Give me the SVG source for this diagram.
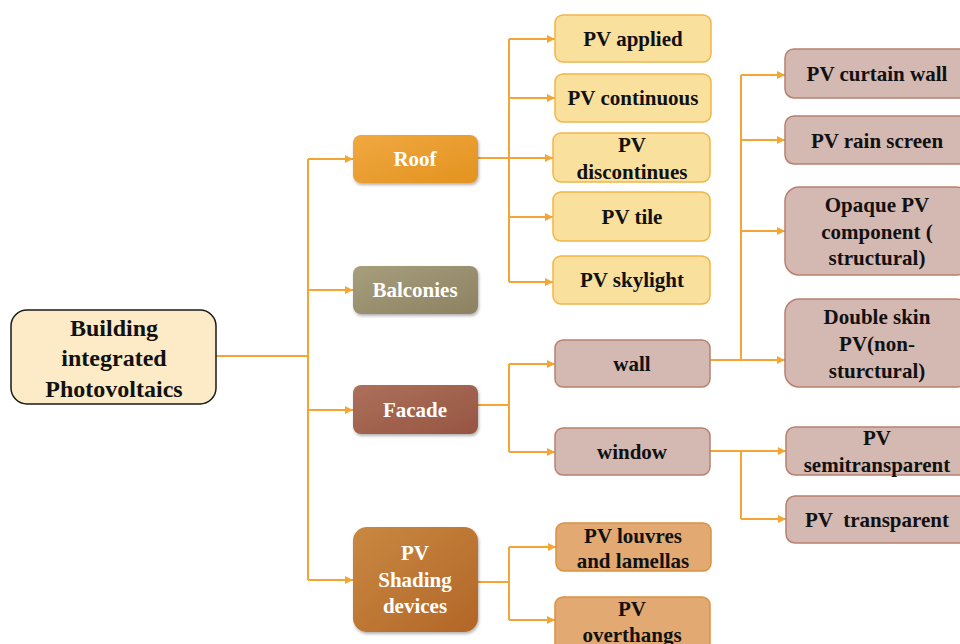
<svg xmlns="http://www.w3.org/2000/svg" width="960" height="644" viewBox="0 0 960 644">
<defs>
  <linearGradient id="gRoof" x1="0" y1="0" x2="1" y2="1"><stop offset="0" stop-color="#f0a841"/><stop offset="1" stop-color="#e3931f"/></linearGradient>
  <linearGradient id="gBal" x1="0" y1="0" x2="1" y2="1"><stop offset="0" stop-color="#a79e7c"/><stop offset="1" stop-color="#8c8262"/></linearGradient>
  <linearGradient id="gFac" x1="0" y1="0" x2="1" y2="1"><stop offset="0" stop-color="#ac705b"/><stop offset="1" stop-color="#965542"/></linearGradient>
  <linearGradient id="gShd" x1="0" y1="0" x2="1" y2="1"><stop offset="0" stop-color="#c98842"/><stop offset="1" stop-color="#b26627"/></linearGradient>
  <filter id="sh" x="-10%" y="-10%" width="125%" height="130%"><feDropShadow dx="1" dy="2" stdDeviation="1.5" flood-color="#000" flood-opacity="0.3"/></filter>
  <marker id="ar" markerWidth="9" markerHeight="9" refX="8" refY="4.5" orient="auto" markerUnits="userSpaceOnUse"><path d="M0,0.5 L8,4.5 L0,8.5 Z" fill="#f4a533"/></marker>
</defs>
<style>
  text{font-family:"Liberation Serif","Times New Roman",serif;font-weight:bold;text-anchor:middle;font-size:21px;fill:#111;white-space:pre}
  .w{fill:#fff}
  .root{font-size:24px}
  .c{fill:none;stroke:#f4a533;stroke-width:2}
  .a{marker-end:url(#ar)}
  .y{fill:#f9e09d;stroke:#f2b545;stroke-width:1.5}
  .p{fill:#d4b8b2;stroke:#b8806f;stroke-width:1.5}
  .o{fill:#e2a972;stroke:#d9923f;stroke-width:1.5}
</style>
<rect width="960" height="644" fill="#fff"/>
<g id="connectors">
  <path class="c" d="M216,356 H308 M308,159 V580"/>
  <path class="c a" d="M308,159 H353"/>
  <path class="c a" d="M308,290 H353"/>
  <path class="c a" d="M308,410 H353"/>
  <path class="c a" d="M308,580 H353"/>
  <path class="c" d="M478,158 H509 M509,39 V282"/>
  <path class="c a" d="M509,39 H555"/>
  <path class="c a" d="M509,98 H555"/>
  <path class="c a" d="M509,158 H553"/>
  <path class="c a" d="M509,217 H553"/>
  <path class="c a" d="M509,282 H553"/>
  <path class="c" d="M478,405 H509 M509,364 V452"/>
  <path class="c a" d="M509,364 H555"/>
  <path class="c a" d="M509,452 H555"/>
  <path class="c" d="M741,75 V360"/>
  <path class="c a" d="M710,360 H785"/>
  <path class="c a" d="M741,75 H785"/>
  <path class="c a" d="M741,140 H785"/>
  <path class="c a" d="M741,231 H785"/>
  <path class="c" d="M741,451 V519"/>
  <path class="c a" d="M710,451 H786"/>
  <path class="c a" d="M741,519 H786"/>
  <path class="c" d="M478,582 H509 M509,547 V620"/>
  <path class="c a" d="M509,547 H556"/>
  <path class="c a" d="M509,620 H555"/>
</g>
<g id="root">
  <rect x="11" y="310" width="205" height="94" rx="16" fill="#fcebc6" stroke="#1a1a1a" stroke-width="1.5"/>
  <text class="root" x="114" y="336">Building</text>
  <text class="root" x="114" y="366">integrated</text>
  <text class="root" x="114" y="397">Photovoltaics</text>
</g>
<g id="roof">
  <rect x="353" y="135" width="125" height="48" rx="8" fill="url(#gRoof)" filter="url(#sh)"/>
  <text class="w" x="415" y="166">Roof</text>
</g>
<g id="balconies">
  <rect x="353" y="266" width="125" height="48" rx="8" fill="url(#gBal)" filter="url(#sh)"/>
  <text class="w" x="415" y="297">Balconies</text>
</g>
<g id="facade">
  <rect x="353" y="385" width="125" height="49" rx="8" fill="url(#gFac)" filter="url(#sh)"/>
  <text class="w" x="415" y="417">Facade</text>
</g>
<g id="shading">
  <rect x="353" y="527" width="125" height="105" rx="14" fill="url(#gShd)" filter="url(#sh)"/>
  <text class="w" x="415" y="560">PV</text>
  <text class="w" x="415" y="587">Shading</text>
  <text class="w" x="415" y="613">devices</text>
</g>
<g id="pv-applied">
  <rect class="y" x="555" y="15" width="156" height="47" rx="8"/>
  <text x="633" y="46">PV applied</text>
</g>
<g id="pv-continuous">
  <rect class="y" x="555" y="74" width="156" height="48" rx="8"/>
  <text x="633" y="105">PV continuous</text>
</g>
<g id="pv-discontinues">
  <rect class="y" x="553" y="133" width="157" height="49" rx="8"/>
  <text x="632" y="152">PV</text>
  <text x="632" y="179">discontinues</text>
</g>
<g id="pv-tile">
  <rect class="y" x="553" y="192" width="157" height="49" rx="8"/>
  <text x="632" y="224">PV tile</text>
</g>
<g id="pv-skylight">
  <rect class="y" x="553" y="256" width="157" height="48" rx="8"/>
  <text x="632" y="287">PV skylight</text>
</g>
<g id="wall">
  <rect class="p" x="555" y="340" width="155" height="47" rx="8"/>
  <text x="632" y="371">wall</text>
</g>
<g id="window">
  <rect class="p" x="555" y="428" width="155" height="47" rx="8"/>
  <text x="632" y="459">window</text>
</g>
<g id="pv-curtain-wall">
  <rect class="p" x="785" y="49" width="185" height="49" rx="9"/>
  <text x="877" y="81">PV curtain wall</text>
</g>
<g id="pv-rain-screen">
  <rect class="p" x="785" y="116" width="185" height="48" rx="9"/>
  <text x="877" y="148">PV rain screen</text>
</g>
<g id="opaque-pv">
  <rect class="p" x="785" y="187" width="185" height="88" rx="14"/>
  <text x="877" y="212">Opaque PV</text>
  <text x="877" y="239">component (</text>
  <text x="877" y="265">structural)</text>
</g>
<g id="double-skin">
  <rect class="p" x="785" y="299" width="185" height="88" rx="14"/>
  <text x="877" y="324">Double skin</text>
  <text x="877" y="351">PV(non-</text>
  <text x="877" y="378">sturctural)</text>
</g>
<g id="pv-semitransparent">
  <rect class="p" x="786" y="427" width="185" height="48" rx="9"/>
  <text x="877" y="445">PV</text>
  <text x="877" y="472">semitransparent</text>
</g>
<g id="pv-transparent">
  <rect class="p" x="786" y="496" width="185" height="47" rx="9"/>
  <text x="877" y="527">PV  transparent</text>
</g>
<g id="pv-louvres">
  <rect class="o" x="556" y="523" width="155" height="48" rx="8"/>
  <text x="633" y="543">PV louvres</text>
  <text x="633" y="568">and lamellas</text>
</g>
<g id="pv-overthangs">
  <rect class="o" x="555" y="597" width="155" height="60" rx="8"/>
  <text x="632" y="616">PV</text>
  <text x="632" y="642">overthangs</text>
</g>
</svg>
